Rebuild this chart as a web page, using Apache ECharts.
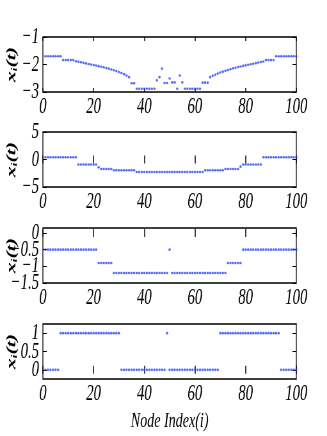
<!DOCTYPE html>
<html>
<head>
<meta charset="utf-8">
<script src="https://cdn.jsdelivr.net/npm/echarts@6/dist/echarts.min.js"></script>
<style>
  html, body { margin: 0; padding: 0; background: #fff; overflow: hidden; }
  /* the original figure is squeezed horizontally, so draw wide and squeeze */
  #chart { width: 511px; height: 436px; transform: scaleX(0.64); transform-origin: 0 0; }
</style>
</head>
<body>
<div id="chart"></div>
<script>
// node indices 1..100
var nodes = [1,2,3,4,5,6,7,8,9,10,11,12,13,14,15,16,17,18,19,20,21,22,23,24,25,26,27,28,29,30,31,32,33,34,35,36,37,38,39,40,41,42,43,44,45,46,47,48,49,50,51,52,53,54,55,56,57,58,59,60,61,62,63,64,65,66,67,68,69,70,71,72,73,74,75,76,77,78,79,80,81,82,83,84,85,86,87,88,89,90,91,92,93,94,95,96,97,98,99,100]
var xTicks = [0, 20, 40, 60, 80, 100]

var state1 = [-1.70,-1.70,-1.70,-1.70,-1.70,-1.70,-1.70,
  -1.84,-1.84,-1.84,-1.84,-1.84,
  -1.88,-1.90,-1.92,-1.94,-1.96,-1.98,-2.00,-2.02,-2.04,-2.06,-2.08,-2.10,-2.13,-2.15,-2.18,-2.21,-2.24,-2.27,-2.31,-2.35,-2.40,-2.46,
  -2.68,-2.68,
  -2.88,-2.88,-2.88,-2.88,-2.88,-2.88,-2.88,-2.88,
  -2.57,-2.46,-2.15,-2.67,-2.67,-2.51,-2.65,-2.65,-2.88,-2.40,-2.65,
  -2.88,-2.88,-2.88,-2.88,-2.88,-2.88,-2.88,
  -2.66,-2.66,-2.66,
  -2.46,-2.41,-2.37,-2.33,-2.29,-2.26,-2.23,-2.20,-2.17,-2.14,-2.12,-2.09,-2.07,-2.05,-2.03,-2.01,-1.99,-1.97,-1.95,-1.93,-1.91,-1.89,
  -1.84,-1.84,-1.84,-1.84,
  -1.70,-1.70,-1.70,-1.70,-1.70,-1.70,-1.70,-1.70,-1.70]

var state2 = [0.42,0.42,0.42,0.42,0.42,0.42,0.42,0.42,0.42,0.42,0.42,0.42,0.42,
  -0.9,-0.9,-0.9,-0.9,-0.9,-0.9,-0.9,-0.9,
  -1.43,
  -1.73,-1.73,-1.73,-1.73,-1.73,
  -1.96,-1.96,-1.96,-1.96,-1.96,-1.96,-1.96,-1.96,-1.96,
  -2.27,-2.27,-2.27,-2.27,-2.27,-2.27,-2.27,-2.27,-2.27,-2.27,-2.27,-2.27,-2.27,-2.27,-2.27,-2.27,-2.27,-2.27,-2.27,-2.27,-2.27,-2.27,-2.27,-2.27,-2.27,-2.27,-2.27,
  -1.96,-1.96,-1.96,-1.96,-1.96,-1.96,-1.96,-1.96,
  -1.73,-1.73,-1.73,-1.73,-1.73,-1.73,
  -1.3,
  -0.9,-0.9,-0.9,-0.9,-0.9,-0.9,-0.9,-0.9,
  0.42,0.42,0.42,0.42,0.42,0.42,0.42,0.42,0.42,0.42,0.42,0.42,0.42,0.42]

var state3 = [-0.5,-0.5,-0.5,-0.5,-0.5,-0.5,-0.5,-0.5,-0.5,-0.5,-0.5,-0.5,-0.5,-0.5,-0.5,-0.5,-0.5,-0.5,-0.5,-0.5,-0.5,
  -0.9,-0.9,-0.9,-0.9,-0.9,-0.9,
  -1.2,-1.2,-1.2,-1.2,-1.2,-1.2,-1.2,-1.2,-1.2,-1.2,-1.2,-1.2,-1.2,-1.2,-1.2,-1.2,-1.2,-1.2,-1.2,-1.2,-1.2,-1.2,
  -0.5,
  -1.2,-1.2,-1.2,-1.2,-1.2,-1.2,-1.2,-1.2,-1.2,-1.2,-1.2,-1.2,-1.2,-1.2,-1.2,-1.2,-1.2,-1.2,-1.2,-1.2,-1.2,-1.2,
  -0.9,-0.9,-0.9,-0.9,-0.9,-0.9,
  -0.5,-0.5,-0.5,-0.5,-0.5,-0.5,-0.5,-0.5,-0.5,-0.5,-0.5,-0.5,-0.5,-0.5,-0.5,-0.5,-0.5,-0.5,-0.5,-0.5,-0.5,-0.5]

var state4 = [0,0,0,0,0,0,
  1,1,1,1,1,1,1,1,1,1,1,1,1,1,1,1,1,1,1,1,1,1,1,1,
  0,0,0,0,0,0,0,0,0,0,0,0,0,0,0,0,0,0,
  1,
  0,0,0,0,0,0,0,0,0,0,0,0,0,0,0,0,0,0,0,0,
  1,1,1,1,1,1,1,1,1,1,1,1,1,1,1,1,1,1,1,1,1,1,1,1,
  0,0,0,0,0,0,0]

var yTicks1 = [-3, -2, -1]
var yTicks2 = [-5, 0, 5]
var yTicks3 = [-1.5, -1, -0.5, 0]
var yTicks4 = [0, 0.5, 1]

var chart = echarts.init(document.getElementById('chart'))

var font = 'Liberation Serif'
var tops = [37, 132, 228, 324]
var ranges = [[-3, -1], [-5, 5], [-1.5, 0.15], [-0.25, 1.25]]
var yTickSets = [yTicks1, yTicks2, yTicks3, yTicks4]
var states = [state1, state2, state3, state4]

function fmt(v) {
    return String(v).replace('-', '\u2212')
}

function yLabelStyle(vals) {
    return {margin: 6, color: '#000', fontFamily: font, fontStyle: 'italic', fontSize: 23,
        customValues: vals, formatter: fmt, showMinLabel: true, showMaxLabel: true, hideOverlap: false}
}

var grids = [], xAxes = [], yAxes = [], series = []
for (var i = 0; i < 4; i++) {
    grids.push({left: 67, right: 48, top: tops[i], height: 55, show: true, borderColor: '#000', borderWidth: 1.3,
        backgroundColor: '#fff', containLabel: false, outerBoundsMode: 'none'})
    // bottom and top x axes
    xAxes.push({
        gridIndex: i, type: 'value', min: 0, max: 100, interval: 20, position: 'bottom',
        axisLine: {show: false}, splitLine: {show: false},
        axisTick: {inside: true, length: 4, lineStyle: {color: '#000', width: 1.5}},
        axisLabel: {margin: 3, color: '#000', fontFamily: font, fontStyle: 'italic', fontSize: 23,
            customValues: xTicks, showMinLabel: true, showMaxLabel: true},
        name: i === 3 ? 'Node Index(i)' : '', nameLocation: 'middle', nameGap: 31,
        nameTextStyle: {color: '#000', fontFamily: font, fontStyle: 'italic', fontSize: 22}
    })
    xAxes.push({
        gridIndex: i, type: 'value', min: 0, max: 100, interval: 20, position: 'top',
        axisLine: {show: false}, splitLine: {show: false}, axisLabel: {show: false},
        axisTick: {inside: true, length: 4, lineStyle: {color: '#000', width: 1.5}}
    })
    var r = ranges[i], tk = yTickSets[i]
    // labels are split over two left axes so the close ones are not dropped
    var evenVals = tk.filter(function (v, j) { return j % 2 === 0 })
    var oddVals = tk.filter(function (v, j) { return j % 2 === 1 })
    yAxes.push({
        gridIndex: i, type: 'value', min: r[0], max: r[1], position: 'left',
        axisLine: {show: false}, splitLine: {show: false},
        axisTick: {inside: true, length: 6, lineStyle: {color: '#000'}, customValues: tk},
        axisLabel: yLabelStyle(evenVals),
        name: '{v|x}{s|i}{v|(t)}', nameLocation: 'middle', nameGap: 38, nameMoveOverlap: false,
        nameTextStyle: {rich: {
            v: {fontFamily: font, fontStyle: 'italic', fontWeight: 'bold', fontSize: 22, lineHeight: 22, color: '#000'},
            s: {fontFamily: font, fontStyle: 'italic', fontWeight: 'bold', fontSize: 13, lineHeight: 22, color: '#000', verticalAlign: 'bottom'}
        }}
    })
    yAxes.push({
        gridIndex: i, type: 'value', min: r[0], max: r[1], position: 'left',
        axisLine: {show: false}, splitLine: {show: false}, axisTick: {show: false},
        axisLabel: yLabelStyle(oddVals.length ? oddVals : [r[0]]),
        show: oddVals.length > 0
    })
    yAxes.push({
        gridIndex: i, type: 'value', min: r[0], max: r[1], position: 'right',
        axisLine: {show: false}, splitLine: {show: false}, axisLabel: {show: false},
        axisTick: {inside: true, length: 6, lineStyle: {color: '#000'}, customValues: tk}
    })
    var pts = []
    for (var k = 0; k < nodes.length; k++) pts.push([nodes[k], states[i][k]])
    series.push({
        type: 'scatter', xAxisIndex: i * 2, yAxisIndex: i * 3, data: pts,
        symbol: 'circle', symbolSize: [3.6, 2.6], itemStyle: {color: '#2a48f5'}, silent: true
    })
}

chart.setOption({
    animation: false,
    backgroundColor: '#fff',
    grid: grids,
    xAxis: xAxes,
    yAxis: yAxes,
    series: series
})
</script>
</body>
</html>
